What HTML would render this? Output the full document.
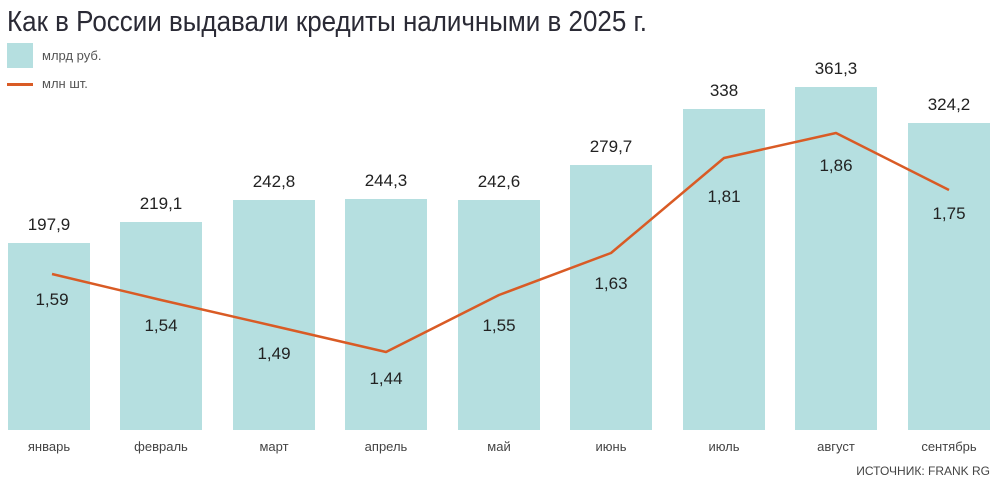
<!DOCTYPE html>
<html><head><meta charset="utf-8"><style>body{margin:0;background:#fff}svg{display:block}</style></head>
<body>
<svg width="999" height="485" xmlns="http://www.w3.org/2000/svg" font-family="Liberation Sans, sans-serif">
<rect width="999" height="485" fill="#fff"/>
<text x="7" y="31" font-size="29" fill="#2a2a35" textLength="640" lengthAdjust="spacingAndGlyphs">Как в России выдавали кредиты наличными в 2025 г.</text>
<rect x="7" y="43" width="26" height="25" fill="#b5dfe0"/>
<text x="42" y="60" font-size="13" fill="#555">млрд руб.</text>
<rect x="7" y="83" width="26" height="3" fill="#d95b25"/>
<text x="42" y="88" font-size="13" fill="#555">млн шт.</text>
<g fill="#b5dfe0">
<rect x="8" y="243" width="82" height="187"/>
<rect x="120" y="222" width="82" height="208"/>
<rect x="233" y="200" width="82" height="230"/>
<rect x="345" y="199" width="82" height="231"/>
<rect x="458" y="200" width="82" height="230"/>
<rect x="570" y="165" width="82" height="265"/>
<rect x="683" y="109" width="82" height="321"/>
<rect x="795" y="87" width="82" height="343"/>
<rect x="908" y="123" width="82" height="307"/>
</g>
<polyline points="52,274 161,300 274,326 386,352 499,295 611,253 724,158 836,133 949,190" fill="none" stroke="#d95b25" stroke-width="2.5" stroke-linejoin="round"/>
<g font-size="17" fill="#222" text-anchor="middle">
<text x="49" y="230">197,9</text>
<text x="161" y="209">219,1</text>
<text x="274" y="187">242,8</text>
<text x="386" y="186">244,3</text>
<text x="499" y="187">242,6</text>
<text x="611" y="152">279,7</text>
<text x="724" y="96">338</text>
<text x="836" y="74">361,3</text>
<text x="949" y="110">324,2</text>
<text x="52" y="305">1,59</text>
<text x="161" y="331">1,54</text>
<text x="274" y="359">1,49</text>
<text x="386" y="384">1,44</text>
<text x="499" y="331">1,55</text>
<text x="611" y="289">1,63</text>
<text x="724" y="202">1,81</text>
<text x="836" y="171">1,86</text>
<text x="949" y="219">1,75</text>
</g>
<g font-size="13" fill="#444" text-anchor="middle">
<text x="49" y="451">январь</text>
<text x="161" y="451">февраль</text>
<text x="274" y="451">март</text>
<text x="386" y="451">апрель</text>
<text x="499" y="451">май</text>
<text x="611" y="451">июнь</text>
<text x="724" y="451">июль</text>
<text x="836" y="451">август</text>
<text x="949" y="451">сентябрь</text>
</g>
<text x="990" y="475" font-size="12" fill="#444" text-anchor="end">ИСТОЧНИК: FRANK RG</text>
</svg>
</body></html>
